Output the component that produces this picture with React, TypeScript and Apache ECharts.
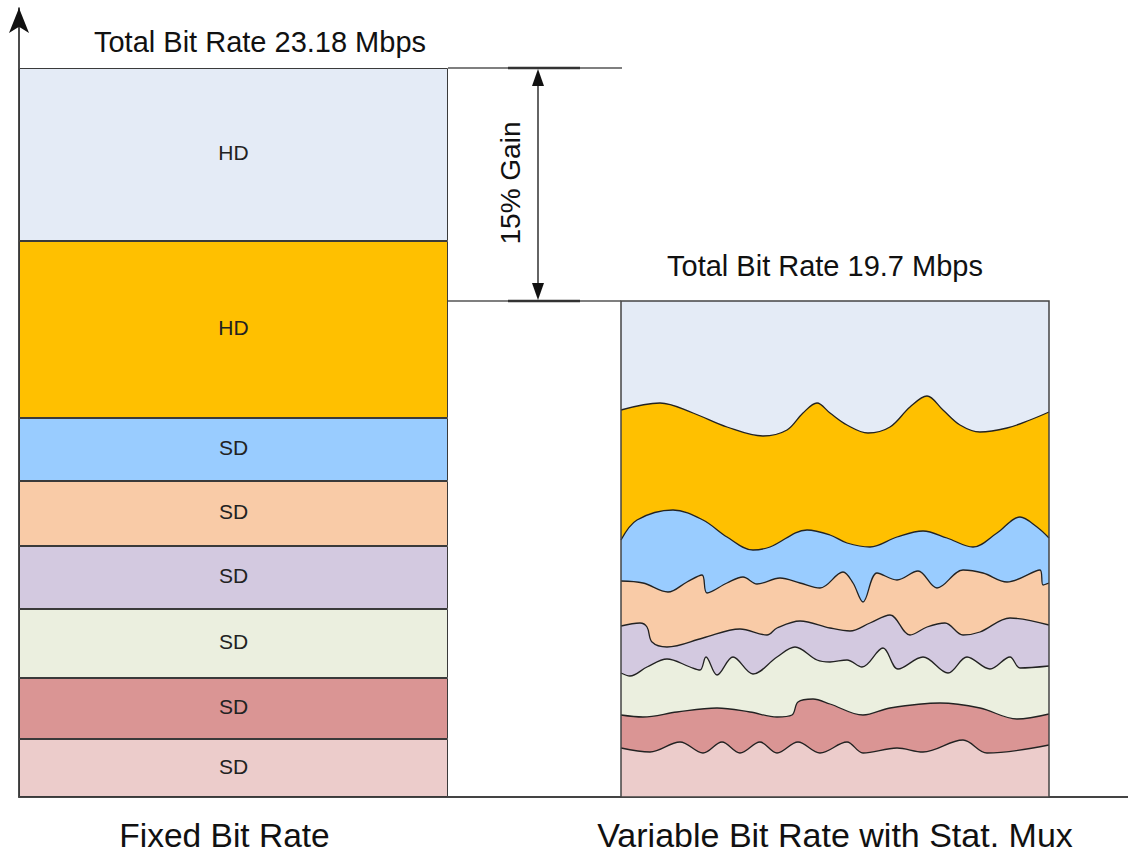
import React, { useEffect, useRef } from "react";
import * as echarts from "echarts";

// ---- Fixed bit rate (left stacked bar), bottom segment first, drawn height units ----
const fixedCategory = ["Fixed Bit Rate"];
const fixedLabels = ["SD", "SD", "SD", "SD", "SD", "SD", "HD", "HD"];
const fixedHeights = [58, 61, 69, 63, 65, 63, 177, 173];
const layerColors = ["#ECCCCB", "#DA9594", "#EBEFDF", "#D3C9E0", "#F9CBA7", "#99CCFF", "#FFC000", "#E4EBF6"];

// ---- Variable bit rate with stat mux (right): top edge of each layer, [time, height] ----
const vbrTop = [[0, 496], [428, 496]];
const hd1Top = vbrTop;
const hd2Top = [[0, 387], [39, 394], [72, 384], [106, 370], [142, 361], [166, 367], [182, 384], [196, 394], [209, 384], [226, 372], [247, 364], [269, 370], [289, 390], [306, 401], [322, 387], [339, 372], [359, 365], [386, 369], [409, 377], [428, 385]];
const sd1Top = [[0, 257], [16, 277], [52, 287], [82, 277], [106, 260], [132, 247], [149, 250], [186, 267], [209, 262], [226, 254], [249, 250], [276, 260], [302, 266], [326, 259], [352, 250], [376, 264], [399, 280], [416, 270], [428, 259]];
const sd2Top = [[0, 216], [22, 214], [47, 205], [66, 215], [81, 222], [86, 204], [106, 214], [122, 220], [136, 213], [159, 219], [179, 214], [199, 209], [222, 225], [232, 214], [242, 195], [256, 224], [276, 217], [297, 226], [316, 209], [342, 227], [362, 224], [386, 215], [419, 227], [422, 212], [428, 214]];
const sd3Top = [[0, 171], [19, 174], [26, 170], [31, 155], [46, 150], [82, 159], [119, 168], [146, 162], [156, 169], [179, 176], [209, 169], [229, 166], [249, 174], [269, 182], [289, 162], [306, 170], [324, 174], [342, 162], [359, 165], [389, 179], [428, 172]];
const sd4Top = [[0, 124], [9, 121], [26, 130], [46, 138], [69, 130], [79, 127], [85, 140], [96, 122], [112, 140], [132, 123], [156, 140], [174, 150], [196, 137], [209, 135], [226, 137], [241, 130], [262, 149], [277, 128], [302, 140], [327, 124], [346, 140], [369, 128], [389, 140], [399, 129], [428, 131]];
const sd5Top = [[0, 82], [22, 80], [56, 85], [96, 89], [129, 85], [156, 80], [171, 82], [177, 95], [192, 98], [209, 93], [242, 82], [269, 89], [319, 94], [359, 89], [396, 78], [428, 83]];
const sd6Top = [[0, 49], [29, 45], [59, 55], [82, 44], [101, 55], [119, 44], [139, 55], [156, 44], [177, 55], [199, 44], [226, 55], [242, 44], [276, 49], [302, 45], [342, 57], [366, 44], [428, 52]];
// top layer first so each lower layer is drawn over it
const vbrLayers = [hd1Top, hd2Top, sd1Top, sd2Top, sd3Top, sd4Top, sd5Top, sd6Top];
const vbrColors = ["#E4EBF6", "#FFC000", "#99CCFF", "#F9CBA7", "#D3C9E0", "#EBEFDF", "#DA9594", "#ECCCCB"];

const fixedTotalLabel = "Total Bit Rate 23.18 Mbps";
const vbrTotalLabel = "Total Bit Rate 19.7 Mbps";
const gainLabel = "15% Gain";
const vbrCategory = "Variable Bit Rate with Stat. Mux";

const FONT = "'Liberation Sans', Arial, sans-serif";

export default function App() {
  const ref = useRef<HTMLDivElement>(null);
  useEffect(() => {
    if (!ref.current) return;
    const chart = echarts.init(ref.current, null, { renderer: "svg" });
    const fixedMax = fixedHeights.reduce((a, b) => a + b, 0);

    const barSeries = fixedHeights.map((h, i) => ({
      type: "bar",
      xAxisIndex: 0,
      yAxisIndex: 0,
      stack: "fixed",
      barWidth: "100%",
      data: [h],
      itemStyle: { color: layerColors[i], borderColor: "#3a3a3a", borderWidth: 1 },
      label: {
        show: true,
        position: "inside",
        formatter: fixedLabels[i],
        fontSize: 21,
        fontFamily: FONT,
        color: "#222",
        offset: [0, -2],
      },
      silent: true,
    }));

    const areaSeries = vbrLayers.map((d, i) => ({
      type: "line",
      xAxisIndex: 1,
      yAxisIndex: 1,
      data: d,
      smooth: 0.35,
      showSymbol: false,
      lineStyle: { color: "#222", width: i === 0 ? 0 : 1.3 },
      areaStyle: { color: vbrColors[i], opacity: 1, origin: "start" },
      silent: true,
    }));

    chart.setOption({
      animation: false,
      grid: [
        { left: 19, width: 429, top: 68, bottom: 58, outerBoundsMode: "none", containLabel: false },
        { left: 621, width: 428, top: 301, bottom: 58, outerBoundsMode: "none", containLabel: false },
        { left: 19, right: 0, top: 8, bottom: 58, outerBoundsMode: "none", containLabel: false },
      ],
      xAxis: [
        {
          gridIndex: 0,
          type: "category",
          data: fixedCategory,
          axisLine: { show: false },
          axisTick: { show: false },
          axisLabel: { show: false },
          name: fixedCategory[0],
          nameLocation: "middle",
          nameGap: 38,
          nameTextStyle: { fontSize: 33.5, lineHeight: 30, fontFamily: FONT, color: "#111", verticalAlign: "middle", padding: [0, 18, 0, 0] },
        },
        {
          gridIndex: 1,
          type: "value",
          min: 0,
          max: 428,
          axisLine: { show: false },
          axisTick: { show: false },
          axisLabel: { show: false },
          splitLine: { show: false },
          name: vbrCategory,
          nameLocation: "middle",
          nameGap: 38,
          nameTextStyle: { fontSize: 34, lineHeight: 30, fontFamily: FONT, color: "#111", verticalAlign: "middle" },
        },
        {
          gridIndex: 2,
          type: "value",
          min: 0,
          max: 1,
          axisLine: { show: true, lineStyle: { color: "#444", width: 2 } },
          axisTick: { show: false },
          axisLabel: { show: false },
          splitLine: { show: false },
        },
      ],
      yAxis: [
        { gridIndex: 0, type: "value", min: 0, max: fixedMax, show: false },
        { gridIndex: 1, type: "value", min: 0, max: 496, show: false },
        {
          gridIndex: 2,
          type: "value",
          min: 0,
          max: 1,
          axisLine: { show: true, symbol: ["none", "arrow"], symbolSize: [15, 25], lineStyle: { color: "#111", width: 1.5 } },
          axisTick: { show: false },
          axisLabel: { show: false },
          splitLine: { show: false },
        },
      ],
      series: [...barSeries, ...areaSeries],
      graphic: [
        { type: "rect", z: 100, shape: { x: 621, y: 301, width: 428, height: 496 }, style: { fill: "none", stroke: "#444", lineWidth: 1.5 } },
        { type: "line", z: 100, shape: { x1: 448, y1: 68, x2: 622, y2: 68 }, style: { stroke: "#555", lineWidth: 1.5 } },
        { type: "line", z: 100, shape: { x1: 448, y1: 301, x2: 621, y2: 301 }, style: { stroke: "#555", lineWidth: 1.5 } },
        { type: "line", z: 100, shape: { x1: 508, y1: 68, x2: 580, y2: 68 }, style: { stroke: "#333", lineWidth: 2.5 } },
        { type: "line", z: 100, shape: { x1: 508, y1: 301, x2: 580, y2: 301 }, style: { stroke: "#333", lineWidth: 2.5 } },
        { type: "line", z: 100, shape: { x1: 538, y1: 80, x2: 538, y2: 289 }, style: { stroke: "#111", lineWidth: 1.3 } },
        { type: "polygon", z: 100, shape: { points: [[538, 69], [532, 86], [544, 86]] }, style: { fill: "#111" } },
        { type: "polygon", z: 100, shape: { points: [[538, 300], [532, 283], [544, 283]] }, style: { fill: "#111" } },
        {
          type: "text", z: 100, x: 260, y: 42,
          style: { text: fixedTotalLabel, fontSize: 29, fontFamily: FONT, fill: "#111", align: "center", verticalAlign: "middle" },
        },
        {
          type: "text", z: 100, x: 825, y: 266,
          style: { text: vbrTotalLabel, fontSize: 29, fontFamily: FONT, fill: "#111", align: "center", verticalAlign: "middle" },
        },
        {
          type: "text", z: 100, x: 510, y: 183, rotation: Math.PI / 2,
          style: { text: gainLabel, fontSize: 28, fontFamily: FONT, fill: "#111", align: "center", verticalAlign: "middle" },
        },
      ],
    });
    return () => chart.dispose();
  }, []);
  return <div ref={ref} style={{ position: "fixed", left: 0, top: 0, width: 1128, height: 855, background: "#fff" }} />;
}
